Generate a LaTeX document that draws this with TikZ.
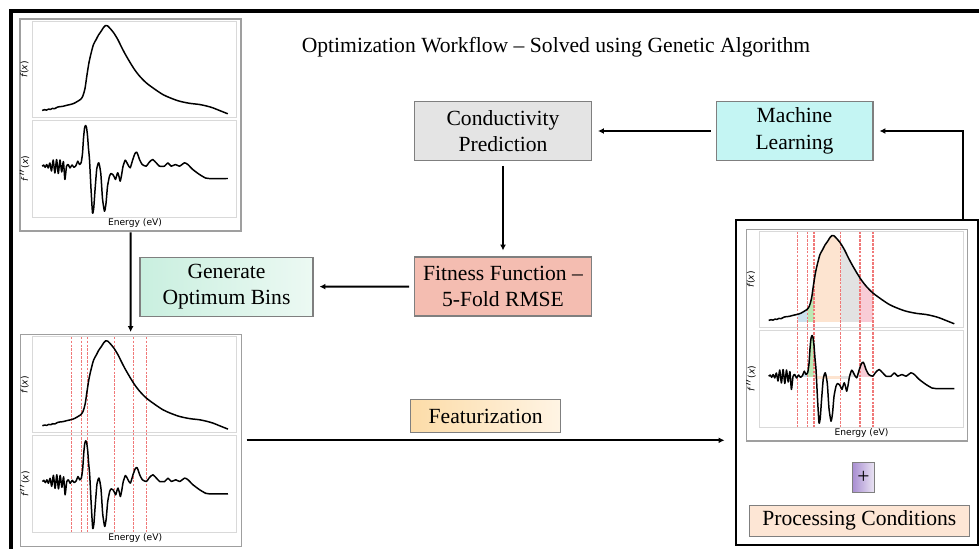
\documentclass[tikz,border=0pt]{standalone}
\usepackage{fontspec}
\setmainfont{Liberation Serif}
\newfontfamily\plotfont{DejaVu Sans}
\usetikzlibrary{arrows.meta}

\definecolor{boxline}{HTML}{7F7F7F}
\definecolor{predgray}{HTML}{E4E4E4}
\definecolor{learncyan}{HTML}{C4F5F3}
\definecolor{fitsalmon}{HTML}{F4BDB1}
\definecolor{binsleft}{HTML}{C9EFDF}
\definecolor{binsright}{HTML}{ECF9F3}
\definecolor{featleft}{HTML}{FCDCA8}
\definecolor{featright}{HTML}{FFF4E4}
\definecolor{plusdark}{HTML}{A98FD2}
\definecolor{pluslight}{HTML}{EAE4F3}
\definecolor{procpeach}{HTML}{FDE6D5}
\definecolor{binblue}{HTML}{CDE2EE}
\definecolor{bingreen}{HTML}{BDE8B4}
\definecolor{binorange}{HTML}{FDE4D0}
\definecolor{bingray}{HTML}{E2E2E2}
\definecolor{binpink}{HTML}{F8CCD6}
\definecolor{binred}{HTML}{F07878}

% spectra, in pixels from the top left corner of a panel
\newcommand{\fxcurve}{plot [smooth, tension=0.5] coordinates {
    (22.7,92) (25,91.2) (27,91.6) (29,90.6) (31,90.9) (33,89.9) (35,90.2)
    (38,88.6) (40,88.2) (43,87.9) (45,87.4) (48,86.6) (50,86.2) (53,85.4)
    (55,84.6) (58.3,82.7) (61,81) (63.3,77.7) (65.5,70) (67.3,57.7)
    (69.5,44) (71.7,34.3) (74,26) (76.7,21) (79,16.5) (81.7,12.7) (84,9)
    (86,7) (88,7.3) (90,9.3) (94,14) (98.3,21) (101.5,27.5) (105,34.3)
    (110,43) (115,51) (120,57.5) (126.7,64.3) (135,70.5) (143.3,76)
    (151,79.5) (160,82.7) (170,84.8) (180,86) (187,87.5) (193.3,89.3)
    (200,92) (208.3,95.3)}}
\newcommand{\ffxcurve}{plot [smooth, tension=0.35] coordinates {
    (22.7,147.7) (24.2,146.5) (25.7,148.8) (27.2,146) (28.7,149.5)
    (30.4,144.5) (32,152.5) (33.7,141.5) (35.4,154.5) (37.1,141)
    (38.8,155) (40.5,141.5) (42.2,153.5) (43.9,143) (45.4,161)
    (47,148) (48.7,146) (50.5,149.5) (52.5,146.5) (54.5,148.8)
    (56.5,147) (58.3,142.7) (60,146) (61.7,144) (63,135) (64,120)
    (65,110) (66,107) (67,109) (68,117) (69,130) (70,141) (71.5,170)
    (73,194.3) (74.2,190) (75.5,172) (77.3,150) (79.3,144.3) (81.3,155)
    (83,180) (85,192.7) (86.5,185) (88,168) (90,157.7) (91.5,155)
    (93.3,156) (95,159) (96,161) (97.5,156) (98.3,154.3) (99.5,158)
    (100.7,162.7) (102,157) (103.5,148) (105.7,141.7) (107.3,144)
    (108.3,146) (110.7,149.3) (113.3,141) (115.5,135) (117.3,133.7)
    (119,138) (120,141) (122.7,146) (126.7,147.7) (129.3,144.3)
    (131.5,142) (133.3,141) (136.7,144.3) (140,147.7) (145,147.7)
    (148.3,144.3) (151.7,147.7) (156,146) (160,147.7) (165,144.3)
    (168.3,146) (173.3,151) (180,156) (186,159.5) (189.3,160) (208.3,160)}}

\newcommand{\spectrumcurves}{%
    \draw [axes box] (13,3) rectangle (217,99);
    \draw [axes box] (13,102) rectangle (217,199);
    \draw [spectrum] \fxcurve;
    \draw [spectrum] \ffxcurve;
}
\newcommand{\spectrumlabels}{%
    \node (fx label) [axis label, rotate=90] at (5,51) {\textit{f}(\textit{x})};
    \node (ffx label) [axis label, rotate=90] at (5,150)
        {\textit{f}$^{\prime\prime}$(\textit{x})};
    \node (energy label) [axis label] at (115.5,204) {Energy (eV)};
}
\newcommand{\binlines}{%
    \foreach \bx in {51.5,61.5,68,94.5,114,127}
        \draw [bin edge] (\bx,3) -- (\bx,199);
}
\newcommand{\binfill}[3]{%
    \begin{scope}
        \clip (#1,3) rectangle (#2,92.7);
        \fill [#3] \fxcurve -- (208.3,99) -- (22.7,99) -- cycle;
    \end{scope}
    \begin{scope}
        \clip (#1,102) rectangle (#2,147.7);
        \fill [#3] \ffxcurve -- (208.3,199) -- (22.7,199) -- cycle;
    \end{scope}
}

\begin{document}
\begin{tikzpicture}
    [
        x=0.02cm, y=-0.02cm,
        ->,
        >={Latex[length=3.4pt,width=3.4pt]},
        shorten >=3.4pt,
        shorten <=2.8pt,
        very thick,
        frame/.style={-, shorten >=0pt, shorten <=0pt, line width=1.8pt},
        box/.style={shape=rectangle, draw=boxline, line width=0.6pt,
            align=center, inner sep=0pt, minimum height=1.18cm,
            font=\fontsize{12.3}{15}\selectfont},
        group box/.style={shape=rectangle, draw=black, line width=1.1pt,
            minimum width=4.84cm, minimum height=6.5cm},
        panel/.style={shape=rectangle, draw=gray!75, line width=0.6pt,
            minimum width=4.42cm, minimum height=4.24cm},
        axes box/.style={-, shorten >=0pt, shorten <=0pt, draw=gray!30,
            line width=0.5pt},
        spectrum/.style={-, shorten >=0pt, shorten <=0pt, color=black,
            line width=0.85pt, line join=round},
        bin edge/.style={-, shorten >=0pt, shorten <=0pt, draw=binred,
            line width=0.65pt, dash pattern=on 1.5pt off 0.7pt},
        axis label/.style={font=\plotfont\fontsize{5.2}{6}\selectfont,
            inner sep=0pt},
        title text/.style={font=\fontsize{12.3}{15}\selectfont}
    ]
    \useasboundingbox (0,0) rectangle (979,548);
    \clip (0,0) rectangle (979,548);
    \draw [frame] (11,11) rectangle (1000,570);

    \node (title) [title text] at (556,47)
        {Optimization Workflow -- Solved using Genetic Algorithm};

    \node (cond) [box, fill=predgray, minimum width=3.54cm]
        at (503,131) {Conductivity\\Prediction};
    \node (ml) [box, fill=learncyan, minimum width=3.14cm]
        at (794.5,131) {Machine\\Learning};
    \node (fit) [box, fill=fitsalmon, minimum width=3.54cm]
        at (503,286.5) {Fitness Function --\\5-Fold RMSE};
    \node (bins) [box, left color=binsleft, right color=binsright,
            minimum width=3.46cm]
        at (226.5,286.7) {Generate\\Optimum Bins};
    \node (feat) [box, left color=featleft, right color=featright,
            minimum width=3cm, minimum height=0.66cm]
        at (485.7,416) {Featurization};

    % spectra
    \node (spec raw) [panel] at (130.5,125) {};
    \begin{scope}[shift={(spec raw.north west)}, name prefix=raw ]
        \spectrumcurves
        \spectrumlabels
    \end{scope}

    \node (spec bins) [panel] at (130.7,440.3) {};
    \begin{scope}[shift={(spec bins.north west)}, name prefix=bins ]
        \binlines
        \spectrumcurves
        \spectrumlabels
    \end{scope}

    \node (feat box) [group box] at (857,382.5) {};
    \node (spec fill) [panel] at (857,335) {};
    \begin{scope}[shift={(spec fill.north west)}, name prefix=fill ]
        \binfill{51.5}{61.5}{binblue}
        \binfill{61.5}{68}{bingreen}
        \binfill{68}{94.5}{binorange}
        \binfill{94.5}{114}{bingray}
        \binfill{114}{127}{binpink}
        \fill [binorange] (68,147.7) rectangle (94.5,150.5);
        \fill [bingray] (94.5,147.7) rectangle (104,150.5);
        \binlines
        \spectrumcurves
        \spectrumlabels
    \end{scope}

    \node (plus) [box, left color=plusdark, right color=pluslight,
            minimum width=0.43cm, minimum height=0.6cm]
        at (863.5,477.7) {+};
    \node (proc) [box, fill=procpeach, minimum width=4.4cm,
            minimum height=0.614cm]
        at (859.3,520.7) {Processing Conditions};

    \coordinate (ml return) at ([xshift=-0.32cm]feat box.north east);

    \path
    (ml) edge (cond)
    (cond) edge (fit)
    (fit) edge (bins)
    (spec raw) edge [shorten <=0.5pt, shorten >=1pt] (spec bins)
    (spec bins) edge [shorten >=6pt] (spec bins -| feat box.west)
    ;
    \draw [shorten <=0pt] (ml return) |- (ml);
\end{tikzpicture}
\end{document}
